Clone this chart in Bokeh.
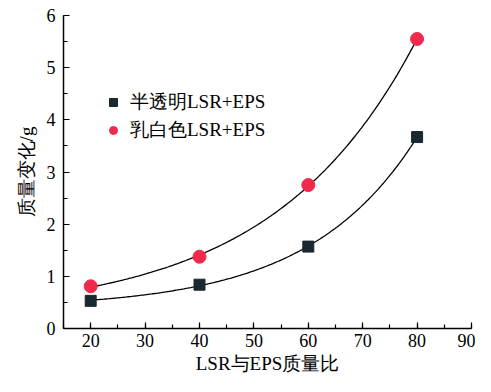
import numpy as np
from bokeh.plotting import figure
from bokeh.models import Legend, LegendItem, Range1d, FixedTicker
from bokeh.embed import file_html
from bokeh.resources import INLINE

ratio = [20, 40, 60, 80]
translucent = [0.53, 0.84, 1.57, 3.67]
milky = [0.81, 1.375, 2.75, 5.55]
x_ticks = [20, 30, 40, 50, 60, 70, 80, 90]
y_ticks = [0, 1, 2, 3, 4, 5, 6]
name_translucent = "半透明LSR+EPS"
name_milky = "乳白色LSR+EPS"
x_label = "LSR与EPS质量比"
y_label = "质量变化/g"


def exp_fit(x, y):
    x = np.asarray(x, float)
    y = np.asarray(y, float)
    best = None
    for b in np.linspace(0.001, 0.2, 4000):
        A = np.column_stack([np.exp(b * x), np.ones_like(x)])
        coef, res, *_ = np.linalg.lstsq(A, y, rcond=None)
        err = np.sum((A @ coef - y) ** 2)
        if best is None or err < best[0]:
            best = (err, b, coef)
    _, b, (a, c) = best
    xs = np.linspace(x.min(), x.max(), 200)
    return xs, a * np.exp(b * xs) + c


SERIF = "'Liberation Serif', 'Times New Roman', serif"

p = figure(width=475, height=376, output_backend="svg", toolbar_location=None,
           x_range=Range1d(15, 90), y_range=Range1d(0, 6),
           min_border_left=63, min_border_right=4, min_border_top=15, min_border_bottom=10)
p.outline_line_color = None
p.grid.grid_line_color = None
p.background_fill_color = "white"
p.border_fill_color = "white"

for ax in (p.xaxis[0], p.yaxis[0]):
    ax.axis_line_width = 1.5
    ax.axis_line_color = "black"
    ax.major_tick_in = 6
    ax.major_tick_out = 0
    ax.minor_tick_in = 4
    ax.minor_tick_out = 0
    ax.major_tick_line_width = 1.2
    ax.minor_tick_line_width = 1.2
    ax.major_label_text_font = SERIF
    ax.major_label_text_font_size = "18px"
    ax.major_label_text_color = "black"
    ax.axis_label_text_font = SERIF
    ax.axis_label_text_font_size = "19px"
    ax.axis_label_text_font_style = "normal"
    ax.axis_label_text_color = "black"

p.xaxis.major_label_standoff = 5
p.yaxis.major_label_standoff = 8
p.xaxis.ticker = FixedTicker(ticks=x_ticks, minor_ticks=list(range(15, 91, 5)))
p.yaxis.ticker = FixedTicker(ticks=y_ticks, minor_ticks=list(np.arange(0, 6.01, 0.5)))
p.xaxis.axis_label = x_label
p.yaxis.axis_label = y_label
p.xaxis.axis_label_standoff = 3
p.yaxis.axis_label_standoff = 7

xs1, ys1 = exp_fit(ratio, translucent)
xs2, ys2 = exp_fit(ratio, milky)
p.line(xs1, ys1, line_color="black", line_width=1.3)
p.line(xs2, ys2, line_color="black", line_width=1.3)

r1 = p.scatter(ratio, translucent, marker="square", size=11,
               fill_color="#1a2830", line_color="#1a2830")
r2 = p.scatter(ratio, milky, marker="circle", size=13,
               fill_color="#ef2a4d", line_color="#ef2a4d")

legend = Legend(items=[LegendItem(label=name_translucent, renderers=[r1]),
                       LegendItem(label=name_milky, renderers=[r2])],
                location=(40, 185), border_line_color=None,
                background_fill_alpha=0, padding=0, margin=0, spacing=2,
                glyph_width=20, glyph_height=20, label_height=20,
                label_standoff=7, label_text_font=SERIF,
                label_text_font_size="19px", label_text_color="black")
p.add_layout(legend)

open("out.html", "w").write(file_html(p, INLINE))
